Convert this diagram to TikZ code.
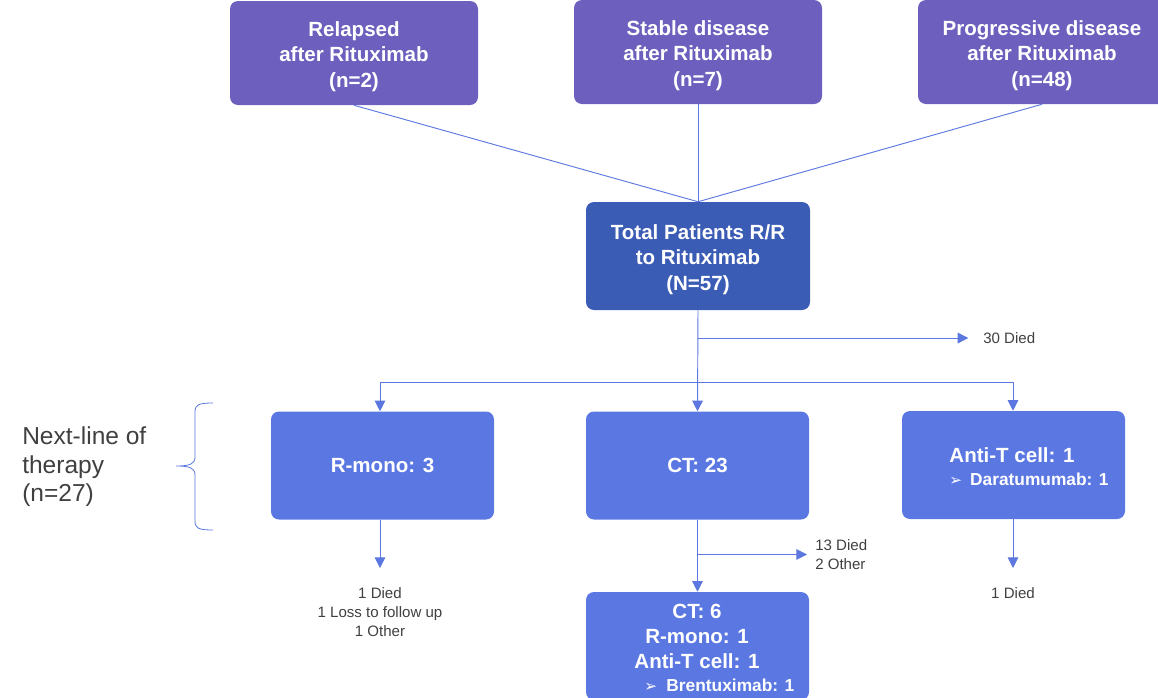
\documentclass[tikz,border=0pt]{standalone}
\usepackage{fontspec}
\setmainfont{Liberation Sans}
\newfontfamily\symfont{DejaVu Sans}
\usetikzlibrary{arrows.meta}
\definecolor{purp}{HTML}{6C5FBE}
\definecolor{dblue}{HTML}{3B5CB5}
\definecolor{mblue}{HTML}{5B77E2}
\definecolor{lineblue}{HTML}{5C78E0}
\definecolor{txtgray}{HTML}{404040}
\newcommand\bulsym{{\symfont\fontsize{11.5}{12}\selectfont ➢}}
\newcommand\topstrut{\rule{0pt}{16.5pt}}
\begin{document}
\begin{tikzpicture}[x=0.75pt,y=-0.75pt,
  box/.style={rounded corners=6pt, text=white, font=\bfseries\fontsize{15.4}{19}\selectfont, align=center, inner sep=0pt},
  topbox/.style={box, fill=purp, minimum width=186pt, minimum height=78pt},
  totbox/.style={box, fill=dblue, minimum width=168pt, minimum height=81pt},
  lowbox/.style={box, fill=mblue, minimum width=167.25pt, minimum height=81pt},
  boxtext/.style={text=white, font=\bfseries\fontsize{15.4}{19}\selectfont, align=center, inner sep=0pt},
  subtext/.style={text=white, font=\bfseries\fontsize{13}{15}\selectfont, inner sep=0pt, anchor=west},
  note/.style={text=txtgray, font=\fontsize{11.3}{14.25}\selectfont, align=center, inner sep=0pt},
  conn/.style={draw=lineblue, line width=0.7pt},
  arr/.style={conn, -{Triangle[length=8pt,width=8pt]}}
]
\useasboundingbox (0,0) rectangle (1158,697);

% top boxes
\node[topbox] (rel) at (354,53) {\topstrut Relapsed\\after Rituximab\\(n=2)};
\node[topbox] (sta) at (698,52) {\topstrut Stable disease\\after Rituximab\\(n=7)};
\node[topbox] (pro) at (1042,52) {\topstrut Progressive disease\\after Rituximab\\(n=48)};

% total
\node[totbox] (tot) at (698,256) {\topstrut Total Patients R/R\\to Rituximab\\(N=57)};

% next-line boxes
\node[lowbox] (rmono) at (382.5,465.5) {R-mono: 3};
\node[lowbox] (ct23) at (697.5,465.5) {CT: 23};
\node[lowbox] (antit) at (1013.5,465) {};
\node[boxtext] (antita) at (1012,455.5) {Anti-T cell: 1};
\node[subtext] (antitb) at (949,479) {\bulsym\hspace{6pt}Daratumumab: 1};

\node[lowbox] (ct6) at (697.5,646) {};
\node[boxtext] (ct6a) at (697,636.5) {CT: 6\\R-mono: 1\\Anti-T cell: 1};
\node[subtext] (ct6b) at (644,685) {\bulsym\hspace{7pt}Brentuximab: 1};

% top connectors
\draw[conn] (rel.south) -- (tot.north);
\draw[conn] (sta.south) -- (tot.north);
\draw[conn] (pro.south) -- (tot.north);

% 30 died
\node[note, anchor=west] (d30) at (983,338) {30 Died};
\draw[arr] (tot.south) -- (ct23.north);
\draw[arr, shorten >=11pt] (tot.south |- d30.west) -- (d30.west);

% branch
\coordinate (br) at (698,382);
\coordinate (brl) at (380,382);
\coordinate (brr) at (1013,382);
\draw[conn] (brl) -- (brr);
\draw[arr] (brl) -- (brl |- rmono.north);
\draw[arr] (brr) -- (brr |- antit.north);

% outcomes
\coordinate (rmend) at (380,568);
\draw[arr] (brl |- rmono.south) -- (rmend);
\node[note] (rmout) at (380,612) {1 Died\\1 Loss to follow up\\1 Other};

\coordinate (atend) at (1013,568);
\draw[arr] (brr |- antit.south) -- (atend);
\node[note] (atout) at (1013,593) {1 Died};

\draw[arr] (ct23.south) -- (ct6.north);
\node[note, anchor=west, align=left] (d13) at (815,554.5) {13 Died\\2 Other};
\draw[arr, shorten >=6pt] (ct23.south |- d13.west) -- (d13.west);

% brace and left label
\draw[conn, line width=0.6pt] (213,403) .. controls (198,403) and (195,405) .. (195,412) -- (195,457)
  .. controls (195,464) and (190,466) .. (176,466)
  .. controls (190,466) and (195,468) .. (195,475) -- (195,521)
  .. controls (195,528) and (198,530) .. (213,530);
\node[text=txtgray, font=\fontsize{18.4}{21.4}\selectfont, align=left, anchor=west, inner sep=0pt] (nlt) at (22,467) {Next-line of\\therapy\\(n=27)};
\end{tikzpicture}
\end{document}
